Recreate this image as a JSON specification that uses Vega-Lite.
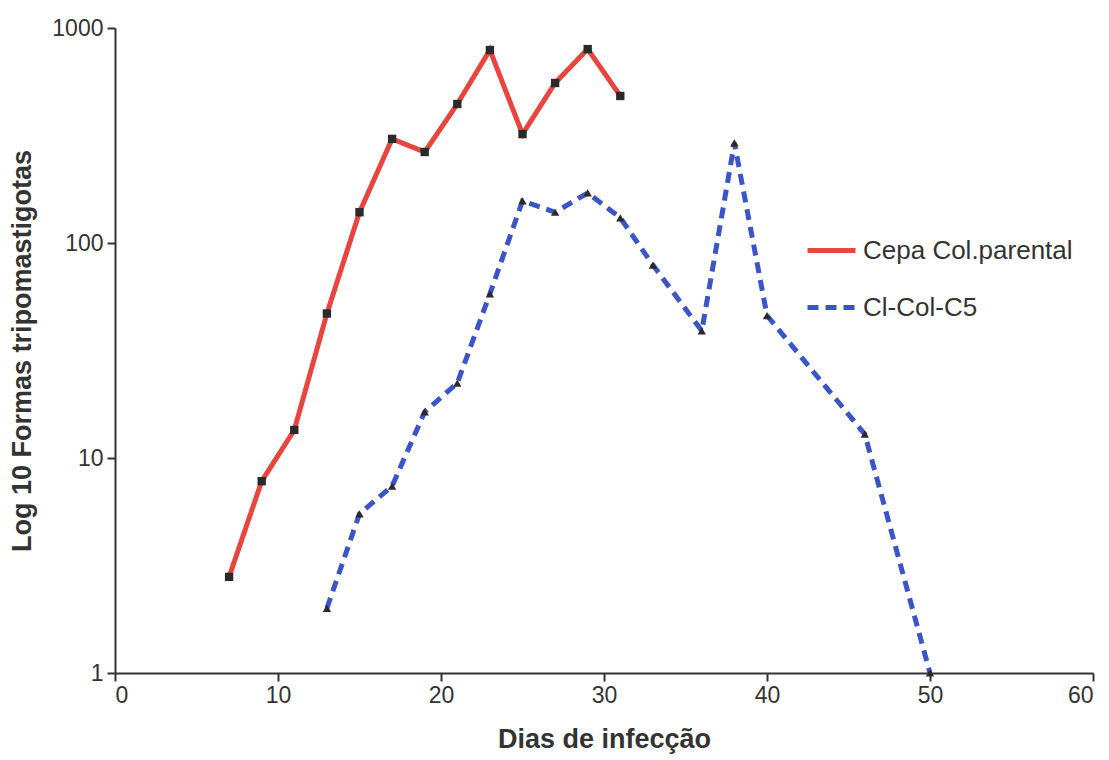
{
  "$schema": "https://vega.github.io/schema/vega-lite/v6.json",
  "width": 978,
  "height": 645,
  "autosize": {"type": "none"},
  "padding": {"left": 115, "top": 28, "right": 16, "bottom": 87},
  "background": "white",
  "config": {
    "view": {"stroke": null},
    "font": "Liberation Sans",
    "axis": {
      "grid": false,
      "domainColor": "#333333",
      "domainWidth": 2,
      "tickColor": "#333333",
      "tickWidth": 2,
      "tickSize": 8,
      "labelFont": "Liberation Sans",
      "labelFontSize": 23,
      "labelColor": "#333333",
      "titleFont": "Liberation Sans",
      "titleFontSize": 27,
      "titleFontWeight": "bold",
      "titleColor": "#333333"
    }
  },
  "data": {
    "values": [
      {"dia": 7, "valor": 2.8, "serie": "Cepa Col.parental"},
      {"dia": 9, "valor": 7.8, "serie": "Cepa Col.parental"},
      {"dia": 11, "valor": 13.5, "serie": "Cepa Col.parental"},
      {"dia": 13, "valor": 47, "serie": "Cepa Col.parental"},
      {"dia": 15, "valor": 139, "serie": "Cepa Col.parental"},
      {"dia": 17, "valor": 305, "serie": "Cepa Col.parental"},
      {"dia": 19, "valor": 265, "serie": "Cepa Col.parental"},
      {"dia": 21, "valor": 443, "serie": "Cepa Col.parental"},
      {"dia": 23, "valor": 790, "serie": "Cepa Col.parental"},
      {"dia": 25, "valor": 321, "serie": "Cepa Col.parental"},
      {"dia": 27, "valor": 555, "serie": "Cepa Col.parental"},
      {"dia": 29, "valor": 798, "serie": "Cepa Col.parental"},
      {"dia": 31, "valor": 483, "serie": "Cepa Col.parental"},
      {"dia": 13, "valor": 2.0, "serie": "Cl-Col-C5"},
      {"dia": 15, "valor": 5.5, "serie": "Cl-Col-C5"},
      {"dia": 17, "valor": 7.4, "serie": "Cl-Col-C5"},
      {"dia": 19, "valor": 16.4, "serie": "Cl-Col-C5"},
      {"dia": 21, "valor": 22.3, "serie": "Cl-Col-C5"},
      {"dia": 23, "valor": 58, "serie": "Cl-Col-C5"},
      {"dia": 25, "valor": 157, "serie": "Cl-Col-C5"},
      {"dia": 27, "valor": 139, "serie": "Cl-Col-C5"},
      {"dia": 29, "valor": 171, "serie": "Cl-Col-C5"},
      {"dia": 31, "valor": 131, "serie": "Cl-Col-C5"},
      {"dia": 33, "valor": 79, "serie": "Cl-Col-C5"},
      {"dia": 36, "valor": 39, "serie": "Cl-Col-C5"},
      {"dia": 38, "valor": 292, "serie": "Cl-Col-C5"},
      {"dia": 40, "valor": 46, "serie": "Cl-Col-C5"},
      {"dia": 46, "valor": 12.9, "serie": "Cl-Col-C5"},
      {"dia": 50, "valor": 1.0, "serie": "Cl-Col-C5"}
    ]
  },
  "encoding": {
    "x": {
      "field": "dia",
      "type": "quantitative",
      "scale": {"domain": [0, 60], "nice": false, "zero": false},
      "axis": {"values": [0, 10, 20, 30, 40, 50, 60], "title": "Dias de infecção", "titlePadding": 19, "labelPadding": 3}
    },
    "y": {
      "field": "valor",
      "type": "quantitative",
      "scale": {"type": "log", "domain": [1, 1000], "nice": false},
      "axis": {"values": [1, 10, 100, 1000], "format": "d", "title": "Log 10 Formas tripomastigotas", "titlePadding": 15, "labelPadding": 4}
    }
  },
  "resolve": {"scale": {"shape": "independent"}, "legend": {"shape": "independent"}},
  "layer": [
    {
      "mark": {"type": "line", "strokeWidth": 5, "strokeCap": "butt"},
      "encoding": {
        "color": {
          "field": "serie",
          "type": "nominal",
          "scale": {"domain": ["Cepa Col.parental", "Cl-Col-C5"], "range": ["#e8453f", "#3b55c6"]},
          "legend": {
            "title": null,
            "orient": "none",
            "legendX": 690,
            "legendY": 196,
            "symbolType": "stroke",
            "symbolSize": 2300,
            "symbolStrokeWidth": 5,
            "labelFontSize": 26,
            "labelFont": "Liberation Sans",
            "labelColor": "#333333",
            "labelLimit": 0,
            "rowPadding": 17,
            "labelOffset": 5
          }
        },
        "strokeDash": {
          "field": "serie",
          "type": "nominal",
          "scale": {"domain": ["Cepa Col.parental", "Cl-Col-C5"], "range": [[1, 0], [11, 7]]},
          "legend": {
            "title": null,
            "orient": "none",
            "legendX": 690,
            "legendY": 196,
            "symbolType": "stroke",
            "symbolSize": 2300,
            "symbolStrokeWidth": 5,
            "labelFontSize": 26,
            "labelFont": "Liberation Sans",
            "labelColor": "#333333",
            "labelLimit": 0,
            "rowPadding": 17,
            "labelOffset": 5
          }
        }
      }
    },
    {
      "mark": {"type": "point", "filled": true, "color": "#2a2a2a", "opacity": 1, "size": 70},
      "encoding": {
        "shape": {
          "field": "serie",
          "type": "nominal",
          "scale": {"domain": ["Cepa Col.parental", "Cl-Col-C5"], "range": ["square", "triangle-up"]},
          "legend": null
        }
      }
    }
  ]
}
